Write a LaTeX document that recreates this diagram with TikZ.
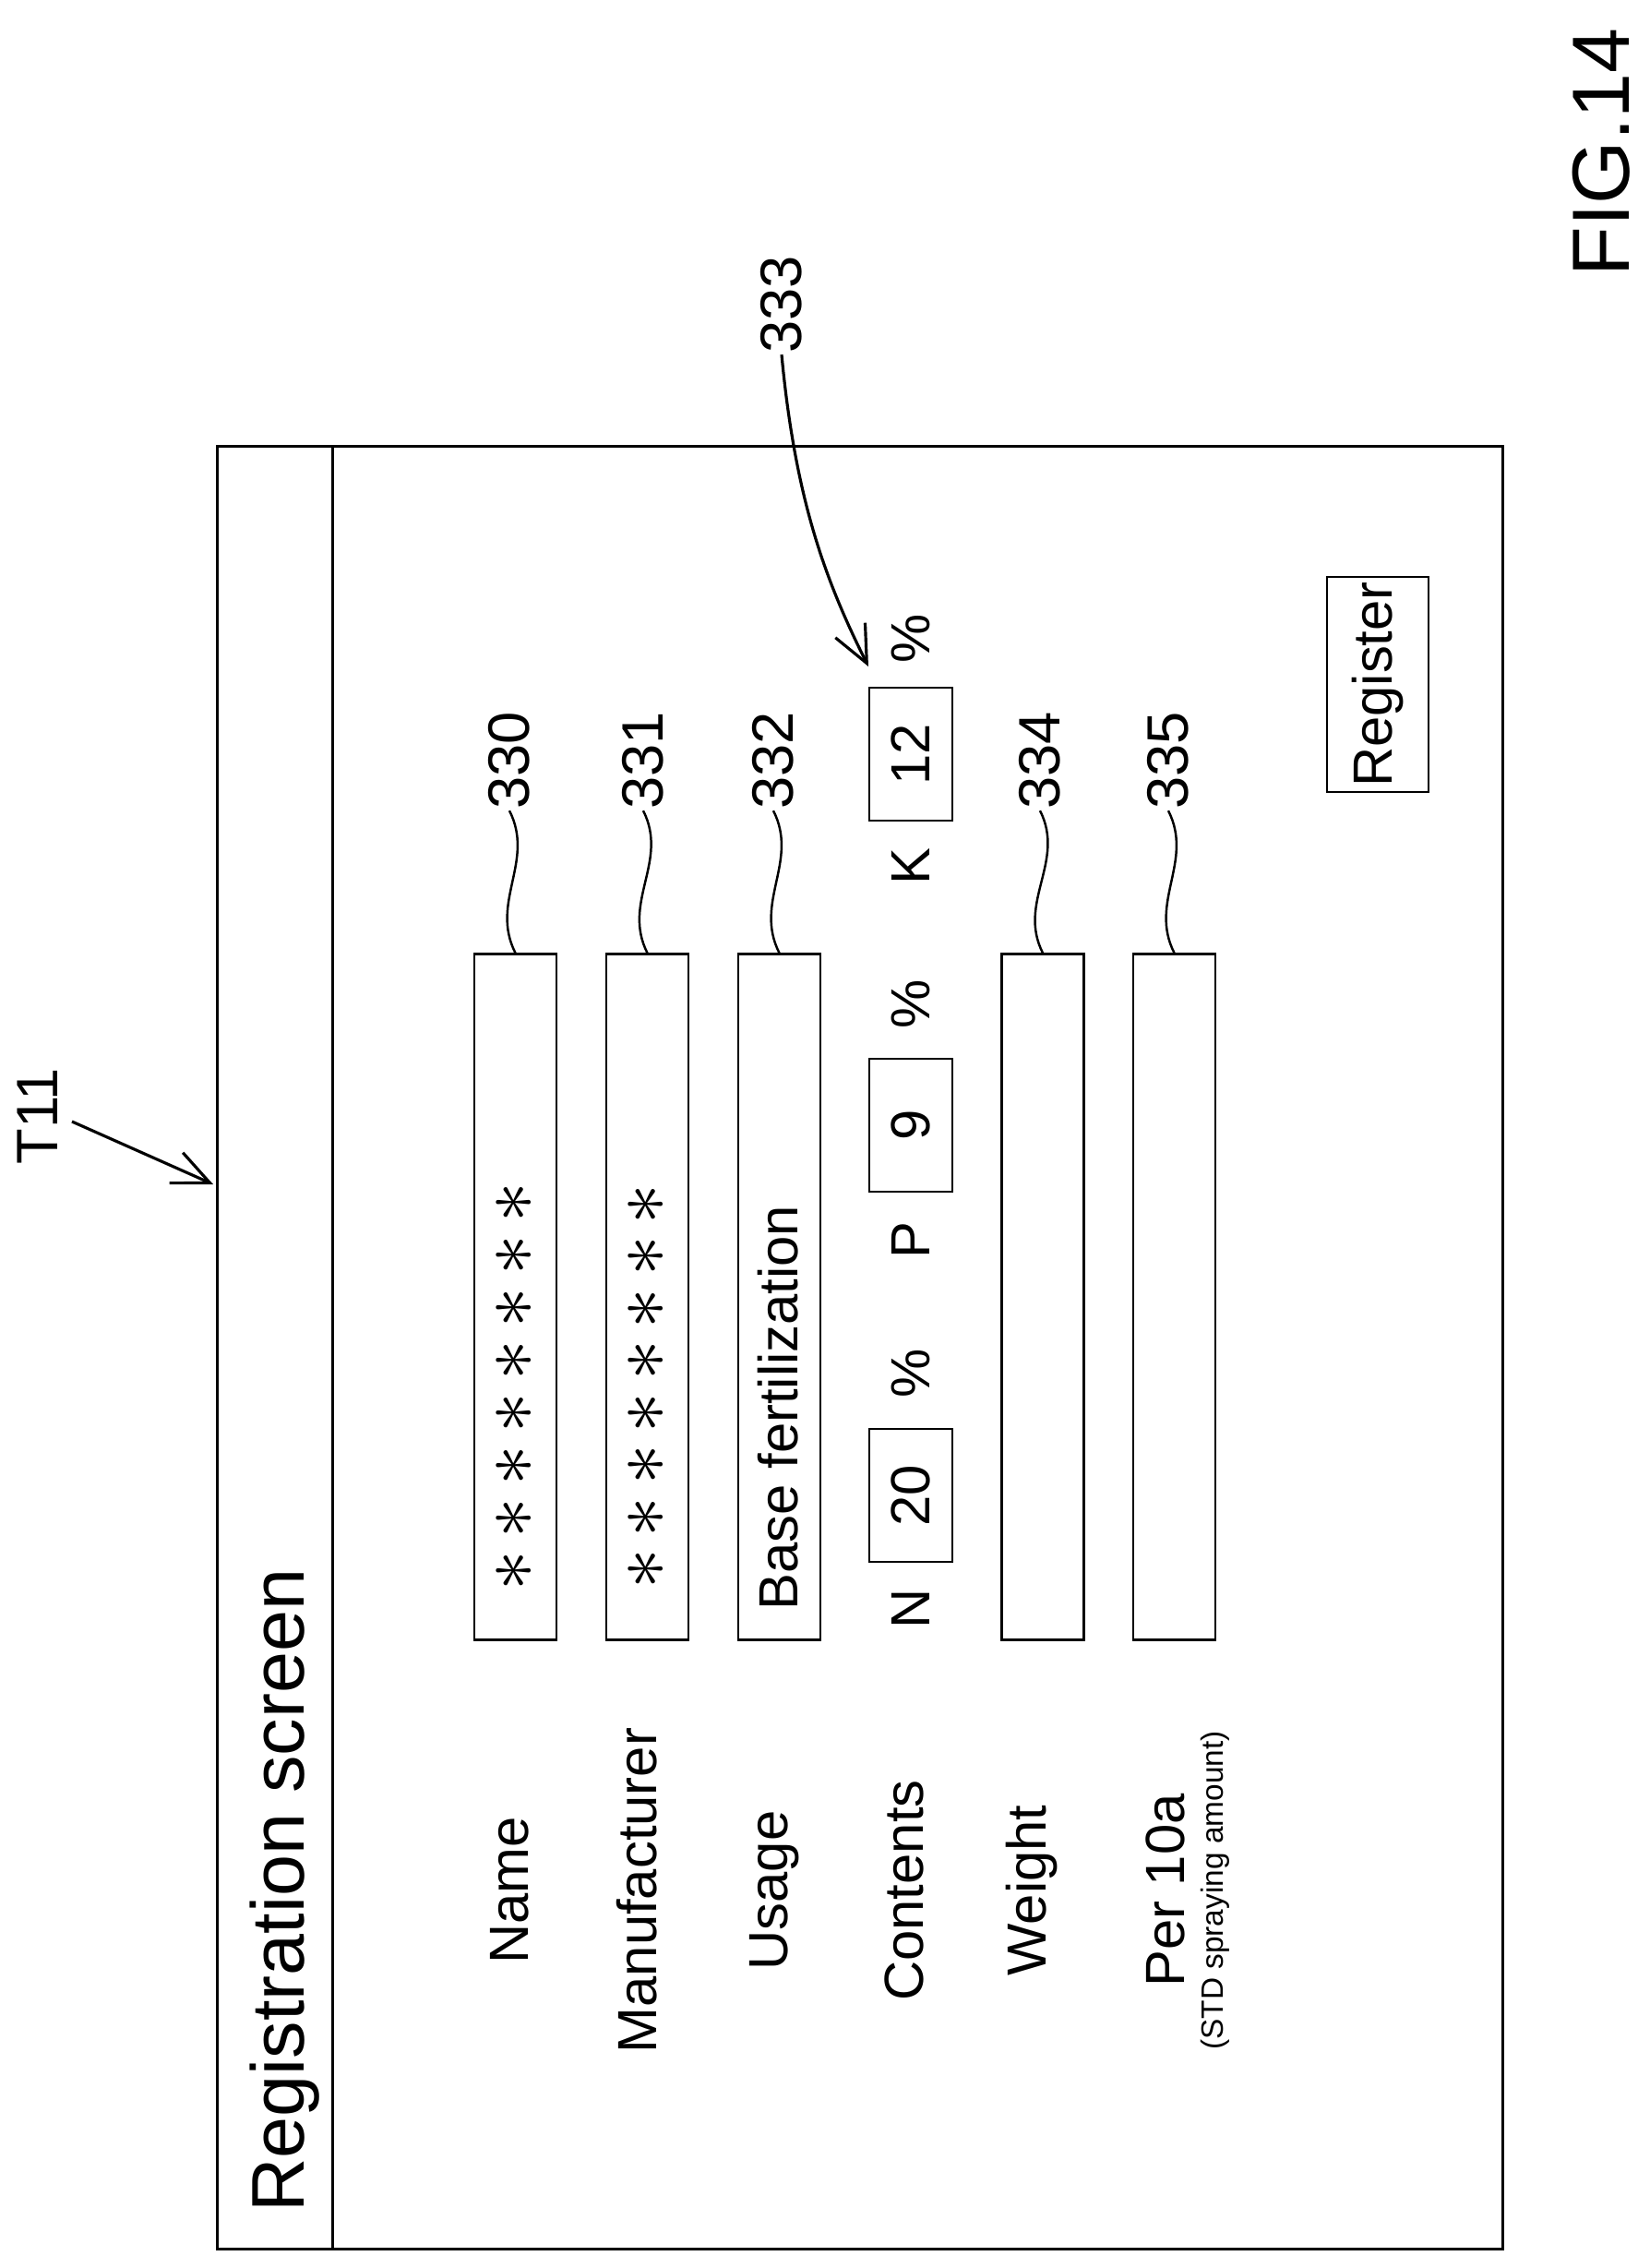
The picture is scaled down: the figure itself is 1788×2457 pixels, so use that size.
\documentclass[tikz,border=0pt]{standalone}
\usepackage{fontspec}
\setmainfont{Liberation Sans}
\usetikzlibrary{arrows.meta,positioning}

\begin{document}
\begin{tikzpicture}[
x=0.01cm, y=-0.01cm,
line width=0.8pt,
every node/.style={font=\fontsize{17}{20}\selectfont, inner sep=0pt},
lbl/.style={rotate=90},
num/.style={rotate=90, font=\fontsize{18}{20}\selectfont},
star/.style={rotate=90, font=\fontsize{26}{28}\selectfont},
field/.style={draw, minimum width=0.89cm, minimum height=7.42cm},
small/.style={draw, minimum width=0.9cm, minimum height=1.44cm},
lead/.style={line width=0.7pt},
arr/.style={-{Straight Barb[length=4mm,width=3.6mm]}, line width=0.9pt}
]
\useasboundingbox (0,0) rectangle (1788,2457);

% screen frame and title bar
\node[draw, minimum width=13.92cm, minimum height=19.52cm] (screen) at (932,1460) {};
\draw ([xshift=1.26cm]screen.north west) -- ([xshift=1.26cm]screen.south west);
\node[lbl, font=\fontsize{23}{26}\selectfont] (title) at (309,2048) {Registration screen};

% row labels
\node[lbl] (lName) at (552,2048) {Name};
\node[lbl] (lManu) at (690,2048) {Manufacturer};
\node[lbl] (lUsage) at (839,2048) {Usage};
\node[lbl] (lCont) at (980,2048) {Contents};
\node[lbl] (lWeight) at (1118,2048) {Weight};
\node[lbl] (lPer) at (1263,2048) {Per 10a};
\node[lbl, font=\fontsize{9.5}{11}\selectfont] (lStd) at (1317,2048) {(STD spraying amount)};

% input fields
\node[field] (f330) at (558.5,1405) {};
\node[field] (f331) at (701.5,1405) {};
\node[field] (f332) at (844.5,1405) {};
\node[field] (f334) at (1130,1405) {};
\node[field] (f335) at (1272.5,1405) {};
\foreach \i in {0,...,7} {
  \node[star] (aName\i) at (558,1702-57*\i) {$\ast$};
  \node[star] (aManu\i) at (701,1700-56.5*\i) {$\ast$};
}
\node[lbl] (vUsage) at (843,1525) {Base fertilization};

% contents N / P / K
\node[lbl] (cN) at (987,1743) {N};
\node[small] (bN) at (987,1620) {};
\node[lbl] (vN) at (bN) {20};
\node[lbl] (pN) at (987,1488) {\%};
\node[lbl] (cP) at (987,1344) {P};
\node[small] (bP) at (987,1219) {};
\node[lbl] (vP) at (bP) {9};
\node[lbl] (pP) at (987,1088) {\%};
\node[lbl] (cK) at (987,939) {K};
\node[small] (bK) at (987,817) {};
\node[lbl] (vK) at (bK) {12};
\node[lbl] (pK) at (987,692) {\%};

% register button
\node[draw, minimum width=1.1cm, minimum height=2.33cm] (reg) at (1493,741.5) {};
\node[lbl] (vReg) at (reg) {Register};

% reference numerals
\node[num] (n330) at (552,824) {330};
\node[num] (n331) at (697,824) {331};
\node[num] (n332) at (838,824) {332};
\node[num] (n334) at (1127,824) {334};
\node[num] (n335) at (1266,824) {335};
\node[num] (n333) at (847,330) {333};
\foreach \n in {330,331,332,334,335}
  \draw[lead] (n\n.west) .. controls +(28,55) and +(-28,-55) .. (f\n.north);
\coordinate (a333) at (941,722);
\draw[arr] (n333.west) .. controls +(15,160) and +(-45,-90) .. (a333);

\node[num] (t11) at (41,1209) {T11};
\coordinate (t11a) at (78,1215);
\coordinate (t11b) at (231,1283);
\draw[arr] (t11a) -- (t11b);

\node[rotate=90, font=\fontsize{25}{28}\selectfont] (fig) at (1735,165) {FIG.14};
\end{tikzpicture}
\end{document}
